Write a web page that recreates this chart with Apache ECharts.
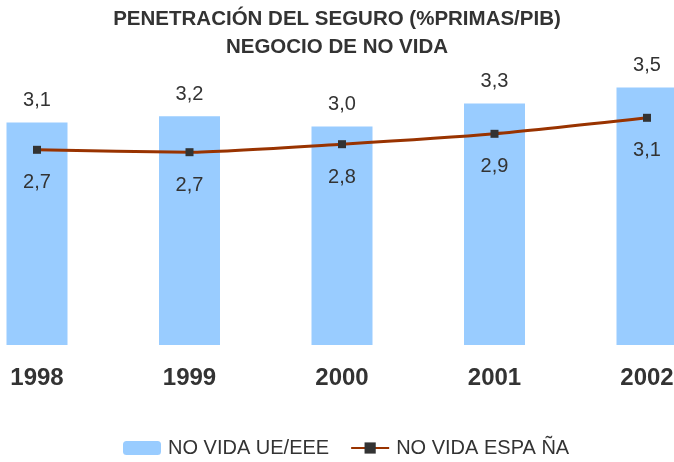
<!DOCTYPE html>
<html>
<head>
<meta charset="utf-8">
<script src="https://cdn.jsdelivr.net/npm/echarts@6/dist/echarts.min.js"></script>
<style>
  html, body { margin: 0; padding: 0; background: #fff; }
  #chart { width: 674px; height: 462px; }
</style>
</head>
<body>
<div id="chart"></div>
<script>
const years = ['1998', '1999', '2000', '2001', '2002'];
const ueValues = [3.08, 3.16, 3.03, 3.32, 3.52];
const spainValues = [2.74, 2.71, 2.81, 2.94, 3.14];
const seriesNames = ['NO VIDA UE/EEE', 'NO VIDA ESPA ÑA'];

const fmt = (p) => p.value.toFixed(1).replace('.', ',');
const font = '"Liberation Sans", Arial, sans-serif';

const chart = echarts.init(document.getElementById('chart'));

const option = {
  animation: false,
  textStyle: { fontFamily: font },
  title: {
    text: 'PENETRACIÓN DEL SEGURO (%PRIMAS/PIB)\nNEGOCIO DE NO VIDA',
    left: 'center',
    top: 0,
    textStyle: {
      fontFamily: font,
      fontSize: 20.5,
      fontWeight: 'bold',
      color: '#333',
      lineHeight: 28,
    },
  },
  legend: {
    top: 438,
    left: 123,
    padding: 0,
    itemWidth: 38,
    itemHeight: 14,
    itemGap: 21,
    textStyle: { fontFamily: font, fontSize: 20, color: '#333', padding: [0, 0, 0, 2] },
    data: seriesNames,
  },
  // band centres land at x = 37, 189.5, ..., 647 (first/last bands run off the canvas)
  grid: {
    left: -39.25,
    width: 762.5,
    top: 65,
    bottom: 117,
    outerBoundsMode: 'none',
  },
  xAxis: {
    type: 'category',
    data: years,
    axisLine: { show: false },
    axisTick: { show: false },
    axisLabel: {
      margin: 21,
      fontFamily: font,
      fontSize: 24,
      fontWeight: 'bold',
      color: '#333',
    },
  },
  yAxis: {
    type: 'value',
    min: 0.3,
    max: 3.8,
    show: false,
  },
  series: [
    {
      name: seriesNames[0],
      type: 'bar',
      data: ueValues,
      barWidth: 61,
      itemStyle: { color: '#99CCFF' },
      label: {
        show: true,
        position: 'top',
        distance: 12,
        formatter: fmt,
        fontFamily: font,
        fontSize: 20,
        color: '#333',
      },
    },
    {
      name: seriesNames[1],
      type: 'line',
      data: spainValues,
      symbol: 'rect',
      symbolSize: 8,
      smooth: 0.2,
      lineStyle: { color: '#993300', width: 3 },
      itemStyle: { color: '#333' },
      label: {
        show: true,
        position: 'bottom',
        distance: 19,
        formatter: fmt,
        fontFamily: font,
        fontSize: 20,
        color: '#333',
      },
    },
  ],
};

chart.setOption(option);
</script>
</body>
</html>
